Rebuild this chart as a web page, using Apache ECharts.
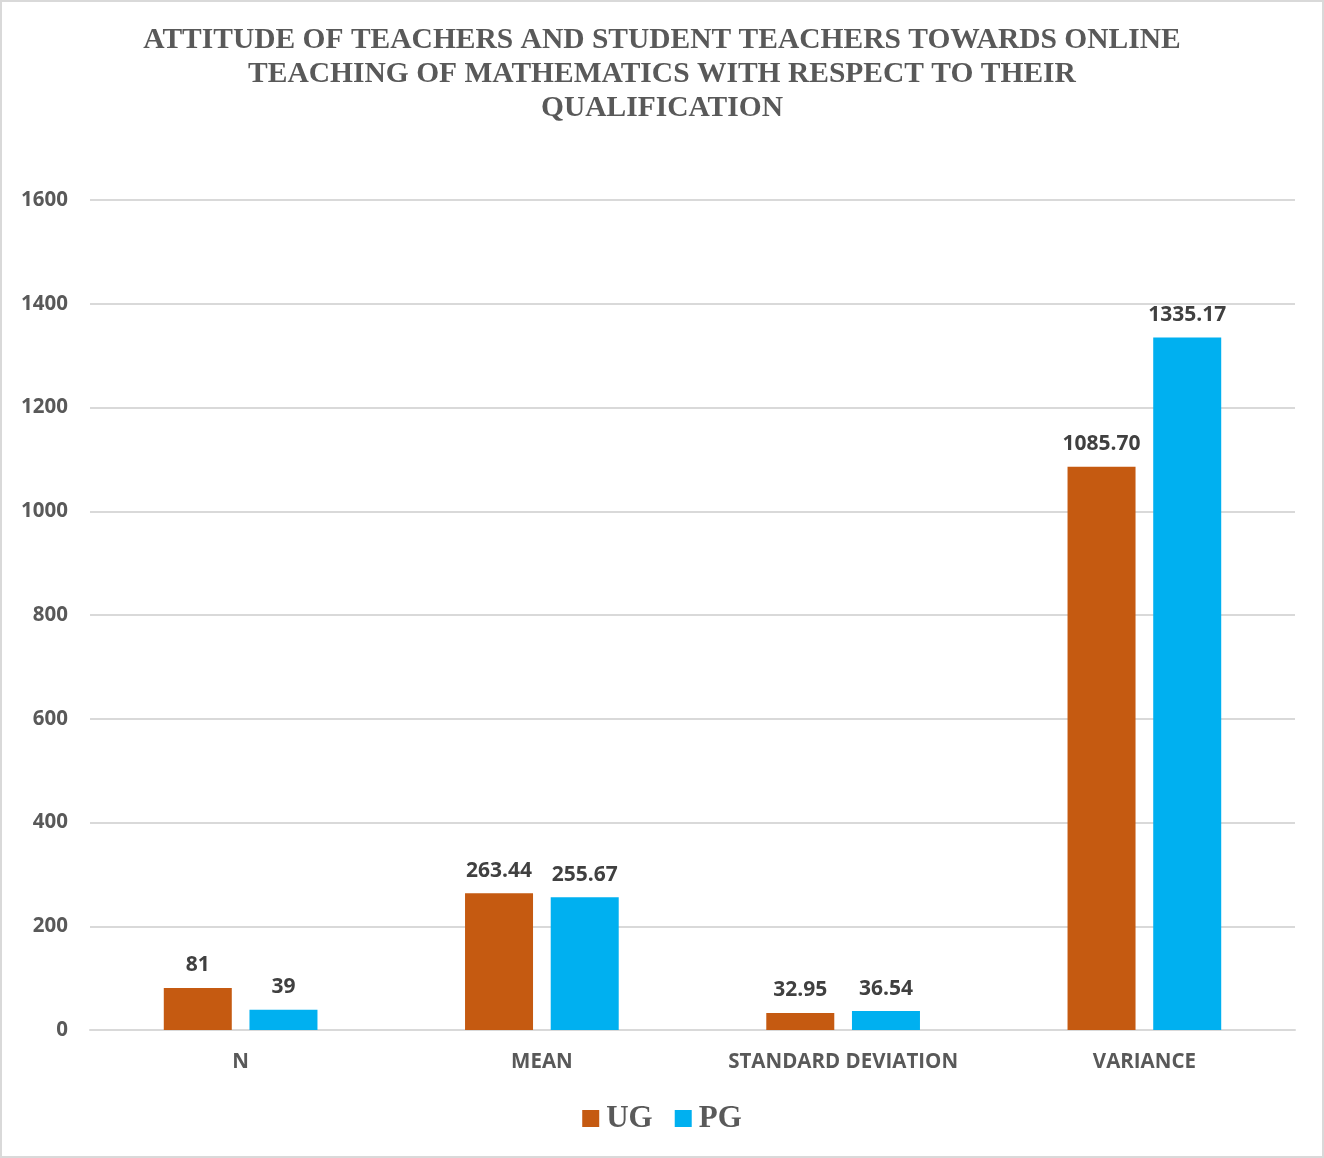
<!DOCTYPE html>
<html><head><meta charset="utf-8">
<script src="https://cdn.jsdelivr.net/npm/echarts@6/dist/echarts.min.js"></script>
<style>html,body{margin:0;padding:0;background:#fff}#c{width:1324px;height:1158px;box-sizing:border-box;border:2px solid #d9d9d9}</style>
</head><body><div id="c"></div>
<script>
const categories = ['N', 'MEAN', 'STANDARD DEVIATION', 'VARIANCE'];
const ugValues = [81, 263.44, 32.95, 1085.70];
const pgValues = [39, 255.67, 36.54, 1335.17];
const ugLabels = ['81', '263.44', '32.95', '1085.70'];
const pgLabels = ['39', '255.67', '36.54', '1335.17'];
const yTicks = [0, 200, 400, 600, 800, 1000, 1200, 1400, 1600];
const titleText = 'ATTITUDE OF TEACHERS AND STUDENT TEACHERS TOWARDS ONLINE\nTEACHING OF MATHEMATICS WITH RESPECT TO THEIR\nQUALIFICATION';

const chart = echarts.init(document.getElementById('c'));
const labelFont = {fontFamily: 'Open Sans', fontWeight: 'bold', fontSize: 20.5};
function mk(name, vals, labs, color) {
  return {
    name, type: 'bar', data: vals, barWidth: 68, barGap: '26%',
    itemStyle: {color},
    label: {show: true, position: 'top', distance: 12, color: '#404040', ...labelFont, fontSize: 21,
      formatter: p => labs[p.dataIndex]}
  };
}
chart.setOption({
  animation: false,
  title: {text: titleText, left: 'center', top: 16,
    textStyle: {fontFamily: 'Liberation Serif', fontWeight: 'bold', fontSize: 29.5, color: '#595959', lineHeight: 34}},
  legend: {bottom: 17, left: 'center', itemWidth: 17, itemHeight: 17, itemGap: 22, icon: 'rect',
    textStyle: {fontFamily: 'Liberation Serif', fontWeight: 'bold', fontSize: 31, color: '#595959', padding: [0, 0, 0, 2]}},
  grid: {left: 88, right: 27, top: 198, bottom: 126},
  xAxis: {type: 'category', data: categories,
    axisLine: {lineStyle: {color: '#d9d9d9', width: 2}}, axisTick: {show: false},
    axisLabel: {color: '#595959', margin: 22, ...labelFont}},
  yAxis: {type: 'value', min: 0, max: 1600, interval: 200,
    axisLine: {show: false}, axisTick: {show: false},
    splitLine: {lineStyle: {color: '#d9d9d9', width: 2}},
    axisLabel: {color: '#595959', margin: 22, ...labelFont,
      formatter: v => yTicks.includes(v) ? String(v) : ''}},
  series: [mk('UG', ugValues, ugLabels, '#c55a11'), mk('PG', pgValues, pgLabels, '#00b0f0')]
});
</script></body></html>
